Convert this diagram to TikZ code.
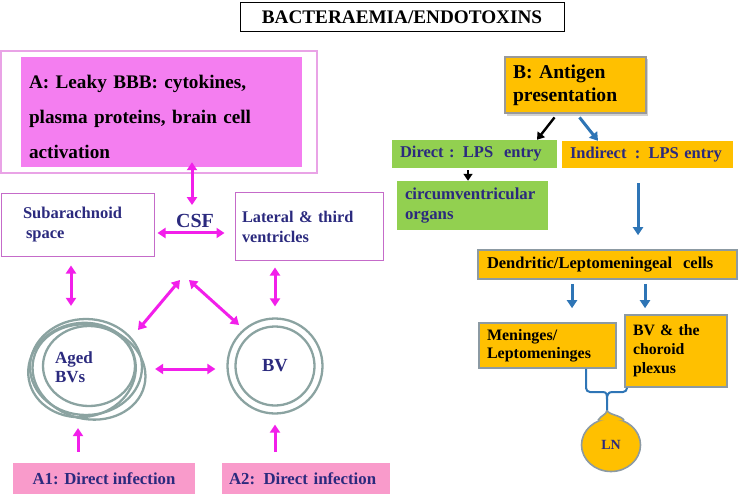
\documentclass[tikz,border=0pt]{standalone}
\usepackage{fontspec}
\setmainfont{Liberation Serif}
\usetikzlibrary{arrows.meta,shapes.geometric,calc}
\definecolor{navy}{HTML}{2B2A7E}
\definecolor{mag}{HTML}{F21FEA}
\definecolor{pinkA}{HTML}{F47EF0}
\definecolor{pinkborder}{HTML}{E9A3E6}
\definecolor{violetborder}{HTML}{C56BC9}
\definecolor{pinkone}{HTML}{F99BCB}
\definecolor{vessel}{HTML}{8BA3A1}
\definecolor{orng}{HTML}{FFC000}
\definecolor{grn}{HTML}{92D050}
\definecolor{blu}{HTML}{2E75B6}
\definecolor{bordergray}{HTML}{8C9AA3}
\tikzset{
  fnt/.style={font=\fontsize{#1}{#1}\selectfont\bfseries},
  box/.style={rectangle, inner sep=0pt, align=left, anchor=center},
  marr/.style={draw=mag, line width=3pt, {Triangle[width=10pt,length=8pt]}-{Triangle[width=10pt,length=8pt]}},
  marrone/.style={draw=mag, line width=3pt, -{Triangle[width=10pt,length=8pt]}},
  barr/.style={draw=blu, line width=3pt, -{Triangle[width=10pt,length=8pt]}},
  karr/.style={draw=black, line width=2.4pt, -{Triangle[width=9pt,length=7pt]}},
  vesselline/.style={draw=vessel, line width=2.3pt},
  orbox/.style={box, fill=orng, draw=bordergray, line width=1.6pt},
}
\begin{document}
\begin{tikzpicture}[x=1pt,y=1pt]
\useasboundingbox (0,0) rectangle (738,-494);
% title
\node[box, draw=black, line width=1pt, minimum width=324, minimum height=29, fnt=19.2, align=center] (title) at (402,-17.5) {BACTERAEMIA/ENDOTOXINS};
% A box
\node[box, draw=pinkborder, line width=1.3pt, minimum width=316, minimum height=122] (Aouter) at (159,-112) {};
\node[box, fill=pinkA, minimum width=281, minimum height=110, text width=265,
      font=\fontsize{19.2}{35}\selectfont\bfseries] (Ainner) at (161.5,-112)
  {\rule{0pt}{23pt}A: Leaky BBB: cytokines,\\plasma proteins, brain cell\\activation};
% sub, lat
\node[box, draw=violetborder, line width=1pt, minimum width=153, minimum height=62, text width=109, text=navy,
      font=\fontsize{16.5}{20}\selectfont\bfseries] (sub) at (77.5,-225)
  {Subarachnoid\\\hspace{3pt}space};
\node[box, draw=violetborder, line width=1pt, minimum width=148, minimum height=67, text width=134, text=navy,
      font=\fontsize{16.3}{20}\selectfont\bfseries] (lat) at (309,-226.5)
  {Lateral \& third\\ventricles};
\node[fnt=20, text=navy, inner sep=1pt] (csf) at (195,-221) {CSF};
% vessels
\node[ellipse, vesselline, minimum width=112, minimum height=96, text=navy, align=left,
      font=\fontsize{17}{19}\selectfont\bfseries] (aged) at (86,-367) {Aged\rule{24pt}{0pt}\\BVs};
\draw[vesselline, rotate around={-14:(89,-372)}] (89,-372) ellipse [x radius=57, y radius=47];
\draw[vesselline, rotate around={10:(82,-370)}] (82,-370) ellipse [x radius=54, y radius=47];
\draw[vesselline] (89,-366) ellipse [x radius=46, y radius=40];
\node[circle, vesselline, minimum size=95, fnt=18.5, text=navy] (bv) at (275,-366) {BV};
\draw[vesselline] (275,-366) circle [radius=39.5];
% A1, A2
\node[box, fill=pinkone, minimum width=182, minimum height=31, fnt=16.8, text=navy, align=center] (A1) at (104,-478.5) {A1: Direct infection};
\node[box, fill=pinkone, minimum width=168, minimum height=31, text width=154, fnt=16.8, text=navy] (A2) at (306,-478.5) {A2: Direct infection};
% magenta arrows
\draw[marr, shorten <=-5pt, shorten >=8pt] (Ainner.south -| 192,0) -- (csf.north -| 192,0);
\draw[marr, shorten <=3pt, shorten >=10pt] (sub.east |- 0,-233) -- (lat.west |- 0,-233);
\draw[marr, shorten <=9pt, shorten >=12pt] (sub.south -| 71,0) -- (aged.north -| 71,0);
\draw[marr, shorten <=7pt, shorten >=11pt] (bv.north |- lat.south) -- (bv.north);
\coordinate (apexL) at (180,-280);
\coordinate (apexR) at (189,-280);
\coordinate (agedNE) at (138,-330);
\coordinate (bvNW) at (239,-325);
\draw[marr] (apexL) -- (agedNE);
\draw[marr] (apexR) -- (bvNW);
\draw[marr, shorten <=12pt, shorten >=11pt] (aged.east |- 0,-369) -- (bv.west |- 0,-369);
\draw[marrone, shorten <=11pt, shorten >=12pt] (A1.north -| 78,0) -- (aged.south -| 78,0);
\draw[marrone, shorten <=11pt, shorten >=10pt] (A2.north -| 275,0) -- (bv.south -| 275,0);
% right side
\fill[gray!35] (507,-59) rectangle (648,-116);
\node[box, fill=orng, draw=gray!80, line width=2.5pt, minimum width=141, minimum height=56, text width=125,
      font=\fontsize{19.6}{23}\selectfont\bfseries] (B) at (575.5,-85) {B: Antigen\\presentation};
\node[box, fill=grn, minimum width=165, minimum height=28, text width=149, fnt=16.5, text=navy] (direct) at (474.5,-154)
  {Direct : LPS\ \ entry};
\node[box, fill=grn, minimum width=151, minimum height=49, text width=135, text=navy,
      font=\fontsize{16.8}{20}\selectfont\bfseries] (circ) at (472.5,-205.5) {circumventricular\\organs};
\node[box, fill=orng, minimum width=171, minimum height=27, text width=155, fnt=16.5, text=navy] (indirect) at (647.5,-154.5)
  {Indirect\ \,: LPS entry};
\node[orbox, minimum width=259, minimum height=29, text width=241, fnt=16.5] (dend) at (607.5,-264.5)
  {Dendritic/Leptomeningeal\ \ cells};
\node[orbox, minimum width=137, minimum height=45, text width=121,
      font=\fontsize{16}{18}\selectfont\bfseries] (men) at (547.5,-345.5) {Meninges/\\Leptomeninges};
\node[orbox, minimum width=102, minimum height=72, text width=86,
      font=\fontsize{15.8}{19}\selectfont\bfseries] (bvc) at (676,-351) {BV \& the\\choroid\\plexus};
% right arrows
\draw[karr, shorten <=4pt] (B.south -| 557,0) -- (direct.north -| 537,0);
\draw[barr, shorten <=4pt] (B.south -| 577,0) -- (indirect.north -| 598,0);
\draw[karr, shorten <=2pt, line width=1.6pt] (direct.south -| 468,0) -- (circ.north -| 468,0);
\draw[barr, shorten <=15pt, shorten >=14pt] (indirect.south -| 638,0) -- (dend.north -| 638,0);
\draw[barr, shorten <=4pt, shorten >=14pt] (dend.south -| 572,0) -- (men.north -| 572,0);
\draw[barr, shorten <=4pt, shorten >=6pt] (dend.south -| 645,0) -- (bvc.north -| 645,0);
% LN
\node[ellipse, fill=orng, draw=bordergray, line width=1.6pt, minimum width=59, minimum height=53, inner sep=0pt, fnt=14, text=navy] (ln) at (611,-445) {LN};
\coordinate (tip) at (607,-410);
\filldraw[fill=orng, draw=bordergray, line width=1.6pt] (ln.118) .. controls +(60:6pt) and +(-95:5pt) .. (tip)
   .. controls +(-80:5pt) and +(118:6pt) .. (ln.62);
\draw[blu, line width=2pt, rounded corners=4pt] (men.south -| 586,0) -- (586,-392) -- (603,-392);
\draw[blu, line width=2pt] (603,-392) .. controls (607,-392) and (607,-395) .. (607,-400) -- (tip);
\draw[blu, line width=2pt, rounded corners=4pt] (bvc.south -| 627,0) -- (627,-392) -- (612,-392);
\draw[blu, line width=2pt] (612,-392) .. controls (608,-392) and (607,-395) .. (607,-400);
\end{tikzpicture}
\end{document}
